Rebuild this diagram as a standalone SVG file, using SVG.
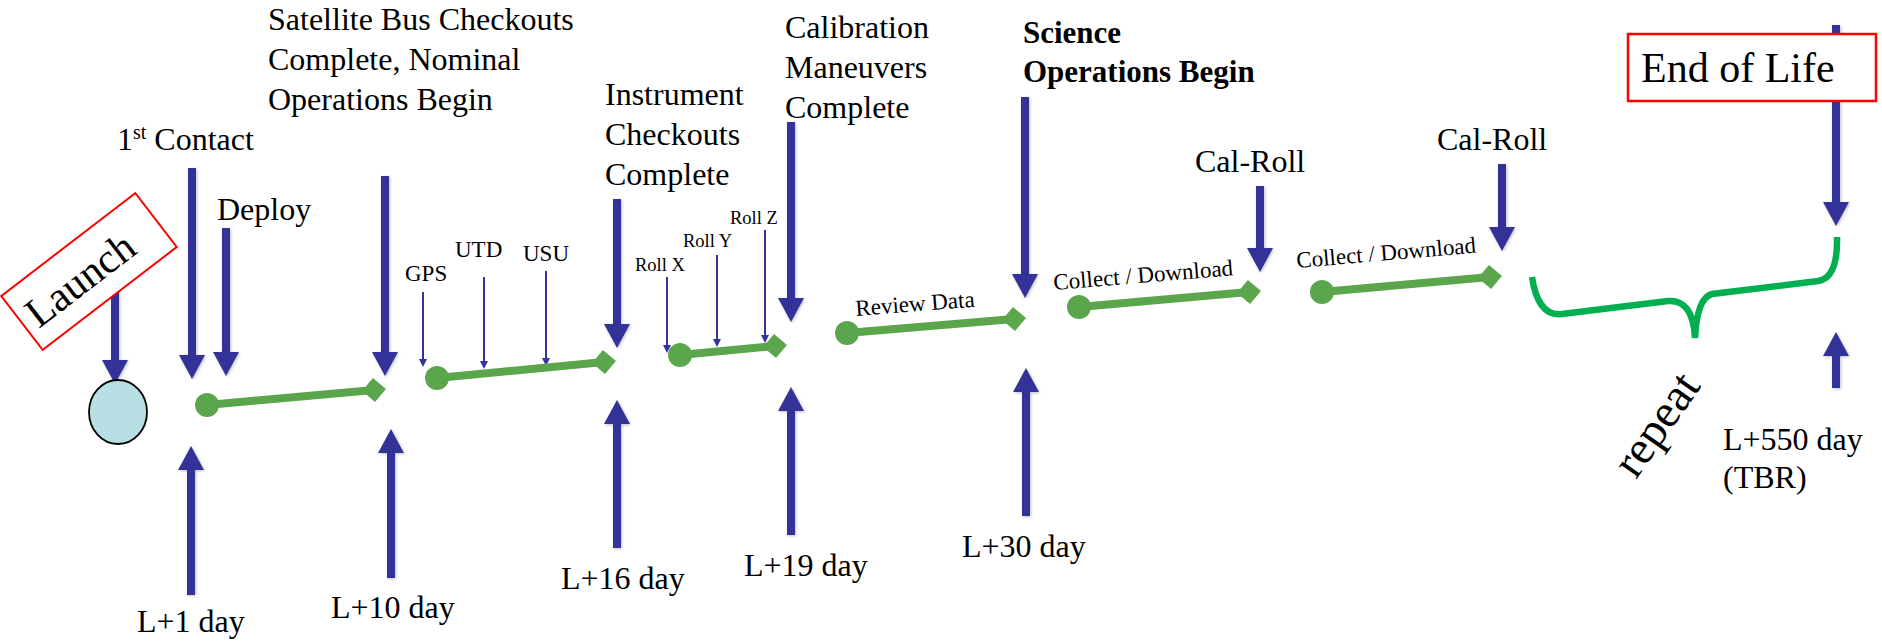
<svg xmlns="http://www.w3.org/2000/svg" width="1882" height="641" viewBox="0 0 1882 641">
<style>
text{font-family:"Liberation Serif","Times New Roman",serif;fill:#000}
.t32{font-size:32px}
.t23{font-size:23px}
.t18{font-size:18.5px}
.big{stroke:#333399;stroke-width:8;fill:none}
.thin{stroke:#333399;stroke-width:2;fill:none}
.seg{stroke:#5ba64c;stroke-width:8;fill:none}
.dot{fill:#5ba64c}
.sh{filter:url(#shadow)}
</style>
<defs>
<filter id="shadow" x="-50%" y="-10%" width="200%" height="120%">
<feDropShadow dx="1" dy="1" stdDeviation="1.5" flood-color="#000" flood-opacity="0.25"/>
</filter>
<marker id="bigHead" markerUnits="userSpaceOnUse" viewBox="0 0 24 26" markerWidth="24" markerHeight="26" refX="0" refY="13" orient="auto">
<path d="M0,0 L24,13 L0,26 z" fill="#333399"/>
</marker>
<marker id="thinHead" markerUnits="userSpaceOnUse" viewBox="0 0 8 8" markerWidth="8" markerHeight="8" refX="0" refY="4" orient="auto">
<path d="M0,0 L8,4 L0,8 z" fill="#333399"/>
</marker>
</defs>
<rect width="1882" height="641" fill="#fff"/>

<g id="connectors">
<g class="sh">
<line class="big" x1="115" y1="230" x2="115" y2="360" marker-end="url(#bigHead)"/>
<line class="big" x1="192" y1="168" x2="192" y2="355" marker-end="url(#bigHead)"/>
<line class="big" x1="226" y1="228" x2="226" y2="352" marker-end="url(#bigHead)"/>
<line class="big" x1="385" y1="176" x2="385" y2="352" marker-end="url(#bigHead)"/>
<line class="big" x1="617" y1="199" x2="617" y2="324" marker-end="url(#bigHead)"/>
<line class="big" x1="791" y1="122" x2="791" y2="298" marker-end="url(#bigHead)"/>
<line class="big" x1="1025" y1="97" x2="1025" y2="274" marker-end="url(#bigHead)"/>
<line class="big" x1="1260" y1="186" x2="1260" y2="248" marker-end="url(#bigHead)"/>
<line class="big" x1="1502" y1="164" x2="1502" y2="227" marker-end="url(#bigHead)"/>
<line class="big" x1="1836" y1="25" x2="1836" y2="202" marker-end="url(#bigHead)"/>
<line class="big" x1="191" y1="595" x2="191" y2="470" marker-end="url(#bigHead)"/>
<line class="big" x1="391" y1="578" x2="391" y2="453" marker-end="url(#bigHead)"/>
<line class="big" x1="617" y1="548" x2="617" y2="424" marker-end="url(#bigHead)"/>
<line class="big" x1="791" y1="535" x2="791" y2="411" marker-end="url(#bigHead)"/>
<line class="big" x1="1026" y1="516" x2="1026" y2="392" marker-end="url(#bigHead)"/>
<line class="big" x1="1836" y1="388" x2="1836" y2="356" marker-end="url(#bigHead)"/>
</g>
<line class="thin" x1="423" y1="292" x2="423" y2="359" marker-end="url(#thinHead)"/>
<line class="thin" x1="484" y1="277" x2="484" y2="361" marker-end="url(#thinHead)"/>
<line class="thin" x1="546" y1="271" x2="546" y2="358" marker-end="url(#thinHead)"/>
<line class="thin" x1="667" y1="277" x2="667" y2="345" marker-end="url(#thinHead)"/>
<line class="thin" x1="717" y1="255" x2="717" y2="339" marker-end="url(#thinHead)"/>
<line class="thin" x1="765" y1="230" x2="765" y2="335" marker-end="url(#thinHead)"/>

<g id="seg1"><line class="seg" x1="207" y1="405" x2="374" y2="390"/><circle class="dot" cx="207" cy="405" r="12"/><polygon class="dot" points="-12,0 0,-12 12,0 0,12" transform="translate(374,390) rotate(-5)"/></g>
<g id="seg2"><line class="seg" x1="437" y1="378" x2="604" y2="362"/><circle class="dot" cx="437" cy="378" r="12"/><polygon class="dot" points="-12,0 0,-12 12,0 0,12" transform="translate(604,362) rotate(-5)"/></g>
<g id="seg3"><line class="seg" x1="680" y1="355" x2="775" y2="346"/><circle class="dot" cx="680" cy="355" r="12"/><polygon class="dot" points="-12,0 0,-12 12,0 0,12" transform="translate(775,346) rotate(-5)"/></g>
<g id="seg4"><line class="seg" x1="847" y1="333" x2="1014" y2="319"/><circle class="dot" cx="847" cy="333" r="12"/><polygon class="dot" points="-12,0 0,-12 12,0 0,12" transform="translate(1014,319) rotate(-5)"/></g>
<g id="seg5"><line class="seg" x1="1079" y1="307" x2="1249" y2="292"/><circle class="dot" cx="1079" cy="307" r="12"/><polygon class="dot" points="-12,0 0,-12 12,0 0,12" transform="translate(1249,292) rotate(-5)"/></g>
<g id="seg6"><line class="seg" x1="1322" y1="292" x2="1490" y2="277"/><circle class="dot" cx="1322" cy="292" r="12"/><polygon class="dot" points="-12,0 0,-12 12,0 0,12" transform="translate(1490,277) rotate(-5)"/></g>

<path id="brace" d="M1532,277 Q1538,317 1562,314 L1668,301 Q1693,299 1695,338 Q1697,298 1712,294 L1818,281 Q1838,278 1837,237" fill="none" stroke="#00b050" stroke-width="6.5"/>
</g>

<g id="launch">
<ellipse cx="118" cy="412" rx="29" ry="32" fill="#b8dfe3" stroke="#000" stroke-width="1.8"/>
<g transform="translate(89,271.5) rotate(-37.5)">
<rect x="-84.5" y="-34" width="169" height="68" fill="#fff" stroke="#ff0000" stroke-width="2"/>
<text x="-12" y="15" font-size="42" text-anchor="middle">Launch</text>
</g>
</g>

<g id="first-contact"><text class="t32" x="117" y="150">1<tspan font-size="20" dy="-11">st</tspan><tspan dy="11"> Contact</tspan></text></g>
<g id="deploy"><text class="t32" x="217" y="220">Deploy</text></g>
<g id="satellite-bus"><text class="t32" x="268" y="30">Satellite Bus Checkouts</text><text class="t32" x="268" y="70">Complete, Nominal</text><text class="t32" x="268" y="110">Operations Begin</text></g>
<g id="gps"><text class="t23" x="405" y="281">GPS</text></g>
<g id="utd"><text class="t23" x="455" y="257">UTD</text></g>
<g id="usu"><text class="t23" x="523" y="261">USU</text></g>
<g id="instrument"><text class="t32" x="605" y="105">Instrument</text><text class="t32" x="605" y="145">Checkouts</text><text class="t32" x="605" y="185">Complete</text></g>
<g id="rollx"><text class="t18" x="635" y="271">Roll X</text></g>
<g id="rolly"><text class="t18" x="683" y="247">Roll Y</text></g>
<g id="rollz"><text class="t18" x="730" y="224">Roll Z</text></g>
<g id="calibration"><text class="t32" x="785" y="38">Calibration</text><text class="t32" x="785" y="78">Maneuvers</text><text class="t32" x="785" y="118">Complete</text></g>
<g id="review"><text class="t23" transform="translate(856,316) rotate(-4.5)">Review Data</text></g>
<g id="science"><text font-size="31" font-weight="bold" x="1023" y="43">Science</text><text font-size="31" font-weight="bold" x="1023" y="82">Operations Begin</text></g>
<g id="collect1"><text class="t23" transform="translate(1054,290) rotate(-4.7)">Collect / Download</text></g>
<g id="calroll1"><text class="t32" x="1195" y="172">Cal-Roll</text></g>
<g id="collect2"><text class="t23" transform="translate(1297,268) rotate(-4.9)">Collect / Download</text></g>
<g id="calroll2"><text class="t32" x="1437" y="150">Cal-Roll</text></g>
<g id="end-of-life">
<rect x="1628" y="34" width="248" height="67" fill="#fff" stroke="#ff0000" stroke-width="2.5"/>
<text font-size="42" x="1641" y="82">End of Life</text>
</g>
<g id="repeat"><text font-size="47" transform="translate(1636,480) rotate(-55)">repeat</text></g>
<g id="l1"><text class="t32" x="137" y="632">L+1 day</text></g>
<g id="l10"><text class="t32" x="331" y="618">L+10 day</text></g>
<g id="l16"><text class="t32" x="561" y="589">L+16 day</text></g>
<g id="l19"><text class="t32" x="744" y="576">L+19 day</text></g>
<g id="l30"><text class="t32" x="962" y="557">L+30 day</text></g>
<g id="l550"><text class="t32" x="1723" y="450">L+550 day</text><text class="t32" x="1723" y="488">(TBR)</text></g>
</svg>
